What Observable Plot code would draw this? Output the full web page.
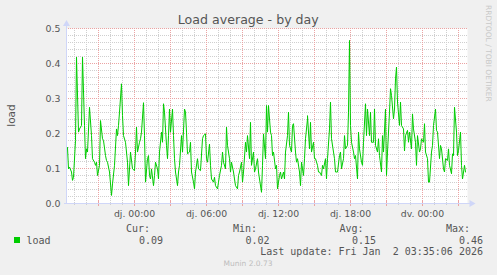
<!DOCTYPE html>
<html><head><meta charset="utf-8">
<script src="https://cdn.jsdelivr.net/npm/d3@7"></script>
<script src="https://cdn.jsdelivr.net/npm/@observablehq/plot@0.6"></script>
<style>
html,body{margin:0;padding:0;background:#f0f0f0;overflow:hidden;}
svg text{font-family:"DejaVu Sans";}
</style></head><body><div id="chart"></div>
<script>
// Minutes relative to Fri 2 Jan 2026 00:00
const minutesFromFri = [
-1778,-1772,-1766,-1758,-1752,-1745,-1738,-1730,-1722,-1715,
-1708,-1700,-1692,-1687,-1680,-1675,-1665,-1658,-1650,-1642,
-1637,-1630,-1625,-1618,-1610,-1603,-1595,-1588,-1583,-1575,
-1567,-1558,-1550,-1542,-1533,-1528,-1522,-1515,-1508,-1500,
-1495,-1487,-1478,-1470,-1462,-1453,
-1443,-1438,-1432,-1425,-1418,-1412,-1405,-1398,-1392,-1385,
-1378,-1373,-1368,-1362,-1355,-1348,-1343,-1335,-1328,-1322,
-1315,-1308,-1302,-1297,-1290,-1283,-1277,-1272,-1265,-1260,
-1253,-1248,-1242,-1235,-1228,-1222,-1215,-1208,-1202,-1193,
-1188,-1182,-1175,-1168,-1162,-1155,-1148,-1142,-1135,-1128,
-1122,-1113,
-1103,-1095,-1088,-1082,-1075,-1068,-1062,-1055,-1048,-1042,
-1035,-1028,-1022,-1015,-1008,-1002,-995,-988,-982,-975,
-968,-962,-955,-948,-942,-935,-928,-922,-915,-908,
-902,-895,-888,-882,-875,-868,-862,-855,-848,-842,
-835,-828,-822,-815,-808,-802,-795,-788,-782,-776,
-770,-764,-758,
-752,-745,-738,-732,-725,-718,-712,-705,-698,-692,
-685,-678,-672,-665,-658,-652,-645,-638,-632,-625,
-618,-612,-605,-598,-592,-585,-578,-575,-568,-562,
-555,-548,-542,-535,-528,-522,-515,-508,-502,-495,
-488,-482,-475,-468,-462,-455,-448,-442,-435,
-425,-418,-412,-405,-398,-392,-385,-378,-372,-368,
-362,-355,-348,-342,-335,-328,-322,-315,-308,-302,
-295,-288,-282,-275,-268,-262,-255,-248,-242,-235,
-228,-222,-215,-208,-202,-195,-188,-182,-175,-168,
-162,-155,-148,-142,-135,-130,-125,-118,-112,-105,
-98,-92,
-85,-78,-72,-65,-58,-52,-45,-38,-32,-25,
-18,-12,-5,2,8,15,22,28,35,42,
48,55,62,68,75,82,88,95,102,108,
115,122,128,135,142,148,155,160,167,173,
180,187,193,200,207,213
];
const loadValues = [
0.160,0.099,0.104,0.090,0.066,0.075,0.180,0.418,0.204,0.213,
0.223,0.418,0.223,0.128,0.156,0.147,0.275,0.194,0.128,0.118,
0.109,0.118,0.080,0.109,0.237,0.185,0.180,0.137,0.123,0.118,
0.090,0.023,0.056,0.109,0.213,0.194,0.223,0.261,0.342,0.251,
0.194,0.175,0.118,0.051,0.147,0.099,
0.094,0.147,0.218,0.147,0.175,0.185,0.204,0.288,0.194,0.061,
0.128,0.137,0.080,0.070,0.099,0.051,0.080,0.118,0.099,0.070,
0.147,0.204,0.175,0.285,0.261,0.166,0.128,0.194,0.270,0.204,
0.270,0.194,0.128,0.090,0.051,0.090,0.109,0.194,0.147,0.270,
0.261,0.204,0.142,0.147,0.175,0.090,0.061,0.042,0.090,0.128,
0.099,0.094,
0.185,0.194,0.199,0.128,0.118,0.170,0.109,0.070,0.061,0.075,
0.051,0.042,0.061,0.080,0.109,0.147,0.118,0.099,0.218,0.166,
0.128,0.090,0.118,0.090,0.070,0.051,0.042,0.080,0.090,0.118,
0.061,0.090,0.175,0.147,0.194,0.128,0.232,0.109,0.147,0.090,
0.099,0.128,0.090,0.070,0.032,0.109,0.199,0.128,0.280,0.204,
0.280,0.204,0.194,
0.137,0.147,0.099,0.109,0.042,0.080,0.090,0.070,0.090,0.070,
0.147,0.194,0.261,0.166,0.147,0.223,0.228,0.147,0.118,0.128,
0.090,0.051,0.118,0.080,0.128,0.185,0.242,0.251,0.156,0.232,
0.147,0.175,0.128,0.128,0.109,0.090,0.090,0.080,0.109,0.099,
0.128,0.070,0.128,0.213,0.290,0.185,0.147,0.128,0.090,
0.090,0.137,0.147,0.099,0.128,0.194,0.156,0.166,0.261,0.466,
0.223,0.175,0.147,0.128,0.137,0.070,0.204,0.156,0.118,0.109,
0.175,0.285,0.194,0.270,0.194,0.261,0.175,0.175,0.270,0.166,
0.147,0.185,0.137,0.090,0.194,0.147,0.270,0.080,0.147,0.261,
0.328,0.309,0.242,0.270,0.356,0.390,0.290,0.223,0.290,0.223,
0.213,0.150,
0.194,0.209,0.175,0.204,0.156,0.256,0.213,0.175,0.109,0.194,
0.147,0.156,0.185,0.175,0.228,0.147,0.128,0.061,0.061,0.147,
0.166,0.223,0.270,0.209,0.204,0.128,0.166,0.156,0.099,0.090,
0.128,0.123,0.156,0.109,0.085,0.142,0.137,0.275,0.204,0.137,
0.151,0.204,0.109,0.070,0.109,0.090
];
const xTickMinutes = [-1440, -1080, -720, -360, 0];
const xTickLabels = ["dj. 00:00", "dj. 06:00", "dj. 12:00", "dj. 18:00", "dv. 00:00"];
const yTicks = [0, 0.1, 0.2, 0.3, 0.4, 0.5];
const domainMinutes = [-1781.5, 223.5];
const seriesName = "load";
const legendHeaders = ["Cur:", "Min:", "Avg:", "Max:"];
const legendValues = ["0.09", "0.02", "0.15", "0.46"];
const titleText = "Load average - by day";
const yLabel = "load";
const lastUpdate = "Last update: Fri Jan  2 03:35:06 2026";
const footerText = "Munin 2.0.73";
const watermark = "RRDTOOL / TOBI OETIKER";

const base = new Date(2026, 0, 2, 0, 0, 0);
const toDate = m => new Date(base.getTime() + m * 60000);
const data = minutesFromFri.map((m, i) => ({t: toDate(m), v: loadValues[i]}));

const hours = d3.range(-29, 4);
const minorX = hours.filter(h => h % 3 !== 0).map(h => toDate(h * 60));
const majorX = hours.filter(h => h % 3 === 0).map(h => toDate(h * 60));
const minorY = d3.range(1, 26).filter(k => k % 5 !== 0).map(k => k * 0.02);
const majorY = yTicks.slice(1);
const x0 = toDate(domainMinutes[0]), x1 = toDate(domainMinutes[1]);

const GRID = "#cfcfcf", MGRID = "#eba3a3", AXIS = "#CFD6F8", FONT = "#555555";

const plot = Plot.plot({
  width: 497, height: 275,
  marginLeft: 66, marginRight: 30, marginTop: 28, marginBottom: 72,
  style: {background: "#f0f0f0", fontFamily: "DejaVu Sans", fontSize: "9.3px", color: FONT, overflow: "visible"},
  x: {type: "time", domain: [x0, x1], round: true},
  y: {domain: [0, 0.5]},
  marks: [
    Plot.frame({fill: "white", stroke: null}),
    Plot.ruleY(minorY, {stroke: GRID, strokeDasharray: "1,1"}),
    Plot.ruleX(minorX, {stroke: GRID, strokeDasharray: "1,1"}),
    Plot.ruleY(majorY, {stroke: MGRID, strokeDasharray: "1,1"}),
    Plot.ruleX(majorX, {stroke: MGRID, strokeDasharray: "1,1"}),
    Plot.ruleX(minorX, {y1: 0, y2: 0, insetTop: -1, insetBottom: -2, stroke: GRID}),
    Plot.ruleX(majorX, {y1: 0, y2: 0, insetTop: -2, insetBottom: -3, stroke: MGRID}),
    Plot.ruleY([0], {stroke: AXIS, insetLeft: -2, insetRight: -3}),
    Plot.ruleX([x0], {stroke: AXIS, insetTop: -3}),
    Plot.dot([{t: x1, v: 0}], {x: "t", y: "v", symbol: "triangle", rotate: 90, r: 2.6, dx: 4, fill: AXIS, stroke: null}),
    Plot.dot([{t: x0, v: 0.5}], {x: "t", y: "v", symbol: "triangle", r: 2.6, dy: -4.5, fill: AXIS, stroke: null}),
    Plot.line(data, {x: "t", y: "v", stroke: "#00cc00", strokeWidth: 1}),
    Plot.axisX({ticks: xTickMinutes.map(toDate), tickFormat: d => xTickLabels[xTickMinutes.indexOf(Math.round((d - base) / 60000))], tickSize: 0, tickPadding: 7, label: null, fill: FONT}),
    Plot.axisY({ticks: yTicks, tickFormat: d3.format(".1f"), tickSize: 0, tickPadding: 6, label: null, fill: FONT, fontSize: "9.4px"})
  ]
});
document.getElementById("chart").appendChild(plot);

const svg = d3.select(plot);
const g = svg.append("g");
g.append("text").attr("x", 248.3).attr("y", 24).attr("text-anchor", "middle")
  .attr("font-size", "12.6px").attr("fill", FONT).text(titleText);
g.append("text").attr("transform", "translate(14.5,115.5) rotate(-90)").attr("text-anchor", "middle")
  .attr("font-size", "10.5px").attr("fill", FONT).text(yLabel);
g.append("text").attr("transform", "translate(486,5) rotate(90)").attr("text-anchor", "start")
  .attr("font-size", "7.5px").attr("fill", "#c8c8c8").text(watermark);

const mono = "'DejaVu Sans Mono'";
const headerEnds = [150, 257, 363.5, 470];
const valueEnds = [163, 269.5, 376, 483];
g.append("rect").attr("x", 14).attr("y", 237).attr("width", 6).attr("height", 6).attr("fill", "#00cc00");
g.append("text").attr("x", 26.5).attr("y", 243.5).attr("text-anchor", "start").style("font-family", mono).attr("font-size", "10px").attr("fill", FONT).text(seriesName);
legendHeaders.forEach((h, i) => {
  g.append("text").attr("x", headerEnds[i]).attr("y", 232).attr("text-anchor", "end")
    .style("font-family", mono).attr("font-size", "10px").attr("fill", FONT).text(h);
  g.append("text").attr("x", valueEnds[i]).attr("y", 243.5).attr("text-anchor", "end")
    .style("font-family", mono).attr("font-size", "10px").attr("fill", FONT).text(legendValues[i]);
});
g.append("text").attr("x", 483).attr("y", 255).attr("text-anchor", "end")
  .style("font-family", mono).style("white-space", "pre").attr("font-size", "10px").attr("fill", FONT).text(lastUpdate);
g.append("text").attr("x", 248).attr("y", 266).attr("text-anchor", "middle")
  .attr("font-size", "7.5px").attr("fill", "#bdbdbd").text(footerText);
</script></body></html>
